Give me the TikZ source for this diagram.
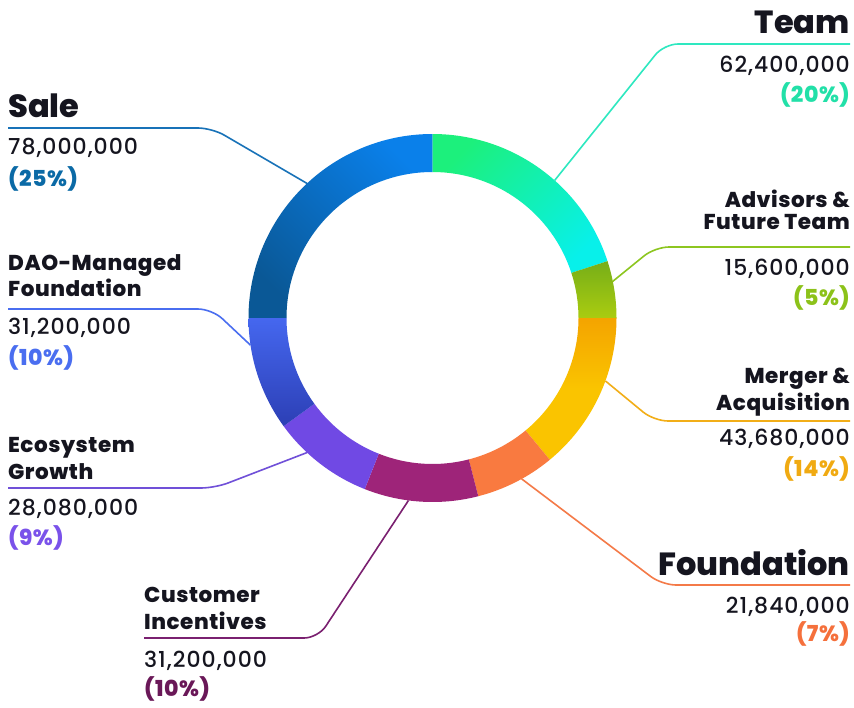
\documentclass[tikz,border=0pt]{standalone}
\usepackage{fontspec}
\setmainfont{Poppins}
\newfontfamily\heavyfont{Poppins ExtraBold}
\newfontfamily\titlefont{Poppins ExtraBold}[LetterSpace=2.5]
\newfontfamily\medfont{Poppins Medium}[LetterSpace=4.5]
\usetikzlibrary{positioning}

\definecolor{salehi}{HTML}{0A80EA}
\definecolor{salelo}{HTML}{0A5896}
\definecolor{teamg}{HTML}{1CF07C}
\definecolor{teamc}{HTML}{08F0EA}
\definecolor{advhi}{HTML}{76AE18}
\definecolor{advlo}{HTML}{AACC10}
\definecolor{merhi}{HTML}{F4A400}
\definecolor{merlo}{HTML}{FAC400}
\definecolor{foundc}{HTML}{F97A40}
\definecolor{custc}{HTML}{9E2479}
\definecolor{ecoc}{HTML}{7049E4}
\definecolor{daohi}{HTML}{4567EF}
\definecolor{daolo}{HTML}{2C3FB5}

\definecolor{saleln}{HTML}{1872B8}
\definecolor{teamln}{HTML}{2EE8C0}
\definecolor{advln}{HTML}{8DC620}
\definecolor{merln}{HTML}{F2AE18}
\definecolor{foundln}{HTML}{F47A48}
\definecolor{custln}{HTML}{7A2070}
\definecolor{ecoln}{HTML}{7050D8}
\definecolor{daoln}{HTML}{4A6EF0}

\definecolor{salepc}{HTML}{0B6AA6}
\definecolor{teampc}{HTML}{22E0A8}
\definecolor{advpc}{HTML}{8CC21A}
\definecolor{merpc}{HTML}{F0AA12}
\definecolor{foundpc}{HTML}{F5703C}
\definecolor{custpc}{HTML}{6A1858}
\definecolor{ecopc}{HTML}{7A52EA}
\definecolor{daopc}{HTML}{4A6EF0}
\definecolor{ink}{HTML}{15151F}

\begin{document}
\begin{tikzpicture}[
        x=1pt, y=1pt,
        bigtitle/.style={font=\fontsize{32}{32}\heavyfont, text=ink, inner sep=0pt},
        title/.style={font=\fontsize{21.5}{21.5}\titlefont, text=ink, inner sep=0pt},
        amount/.style={font=\fontsize{22}{22}\medfont, text=ink, inner sep=0pt},
        pct/.style={font=\fontsize{22}{22}\titlefont, inner sep=0pt},
        link/.style={line width=1.6pt, rounded corners=14pt},
        saleseg/.style={top color=salehi, bottom color=salelo, shading angle=-45},
        teamseg/.style={top color=teamg, bottom color=teamc, shading angle=45},
        advseg/.style={top color=advhi, bottom color=advlo},
        merseg/.style={top color=merhi, bottom color=merlo, middle color=merlo},
        foundseg/.style={top color=foundc, bottom color=foundc},
        custseg/.style={top color=custc, bottom color=custc},
        ecoseg/.style={top color=ecoc, bottom color=ecoc},
        daoseg/.style={top color=daohi, bottom color=daolo}
    ]
        \fill[white] (0,0) rectangle (854,-707);
        \useasboundingbox (0,0) rectangle (854,-707);

        % ring
        \coordinate (C) at (432.5,-318);
        \foreach \st/\a/\b in {saleseg/90/180, teamseg/18/90, advseg/0/18,
                merseg/-50.4/0, foundseg/-75.6/-50.4, custseg/-111.6/-75.6,
                ecoseg/-144/-111.6, daoseg/-180/-144}
            \shade[\st] ([shift={(\a:184)}]C) arc[start angle=\a, end angle=\b, radius=184pt]
                -- ([shift={(\b:146)}]C) arc[start angle=\b, end angle=\a, radius=146pt] -- cycle;

        % points on the ring
        \coordinate (saleP) at ([shift={(133:184)}]C);
        \coordinate (teamP) at ([shift={(48.4:184)}]C);
        \coordinate (advP) at ([shift={(11.5:184)}]C);
        \coordinate (merP) at ([shift={(-20:184)}]C);
        \coordinate (foundP) at ([shift={(-61:184)}]C);
        \coordinate (custP) at ([shift={(-97.5:184)}]C);
        \coordinate (ecoP) at ([shift={(-133:184)}]C);
        \coordinate (daoP) at ([shift={(-171.5:184)}]C);

        % left labels
        \node[bigtitle, anchor=base west] (saleT) at (8,-117) {Sale};
        \coordinate (saleE) at (8,-128);
        \node[amount, anchor=base west] (saleA) at (8,-154) {78,000,000};
        \node[pct, text=salepc, anchor=base west] (saleR) at (8,-186) {(25\%)};

        \node[title, anchor=base west] (daoT1) at (8,-270) {DAO-Managed};
        \node[title, anchor=base west] (daoT2) at (8,-296) {Foundation};
        \coordinate (daoE) at (8,-309);
        \node[amount, anchor=base west] (daoA) at (8,-334) {31,200,000};
        \node[pct, text=daopc, anchor=base west] (daoR) at (8,-365) {(10\%)};

        \node[title, anchor=base west] (ecoT1) at (8,-452) {Ecosystem};
        \node[title, anchor=base west] (ecoT2) at (8,-479) {Growth};
        \coordinate (ecoE) at (8,-488);
        \node[amount, anchor=base west] (ecoA) at (8,-515) {28,080,000};
        \node[pct, text=ecopc, anchor=base west] (ecoR) at (8,-545) {(9\%)};

        \node[title, anchor=base west] (custT1) at (144,-602) {Customer};
        \node[title, anchor=base west] (custT2) at (144,-629) {Incentives};
        \coordinate (custE) at (144,-638);
        \node[amount, anchor=base west] (custA) at (144,-667) {31,200,000};
        \node[pct, text=custpc, anchor=base west] (custR) at (144,-696) {(10\%)};

        % right labels
        \node[bigtitle, anchor=base east] (teamT) at (850,-33) {Team};
        \coordinate (teamE) at (850,-44);
        \node[amount, anchor=base east] (teamA) at (850,-72) {62,400,000};
        \node[pct, text=teampc, anchor=base east] (teamR) at (850,-102) {(20\%)};

        \node[title, anchor=base east] (advT1) at (850,-207) {Advisors \&};
        \node[title, anchor=base east] (advT2) at (850,-229) {Future Team};
        \coordinate (advE) at (850,-247);
        \node[amount, anchor=base east] (advA) at (850,-275) {15,600,000};
        \node[pct, text=advpc, anchor=base east] (advR) at (850,-305) {(5\%)};

        \node[title, anchor=base east] (merT1) at (850,-383) {Merger \&};
        \node[title, anchor=base east] (merT2) at (850,-410) {Acquisition};
        \coordinate (merE) at (850,-421);
        \node[amount, anchor=base east] (merA) at (850,-445) {43,680,000};
        \node[pct, text=merpc, anchor=base east] (merR) at (850,-476) {(14\%)};

        \node[bigtitle, anchor=base east] (foundT) at (850,-575) {Foundation};
        \coordinate (foundE) at (850,-585);
        \node[amount, anchor=base east] (foundA) at (850,-613) {21,840,000};
        \node[pct, text=foundpc, anchor=base east] (foundR) at (850,-641) {(7\%)};

        % connectors
        \draw[link, saleln] (saleP) -- (212,-128) -- (saleE);
        \draw[link, daoln] (daoP) -- (212,-309) -- (daoE);
        \draw[link, ecoln] (ecoP) -- (215,-488) -- (ecoE);
        \draw[link, custln] (custP) -- (318,-638) -- (custE);
        \draw[link, teamln] (teamP) -- (664,-44) -- (teamE);
        \draw[link, advln] (advP) -- (655,-247) -- (advE);
        \draw[link, merln] (merP) -- (654,-421) -- (merE);
        \draw[link, foundln] (foundP) -- (662,-585) -- (foundE);
    \end{tikzpicture}
\end{document}
